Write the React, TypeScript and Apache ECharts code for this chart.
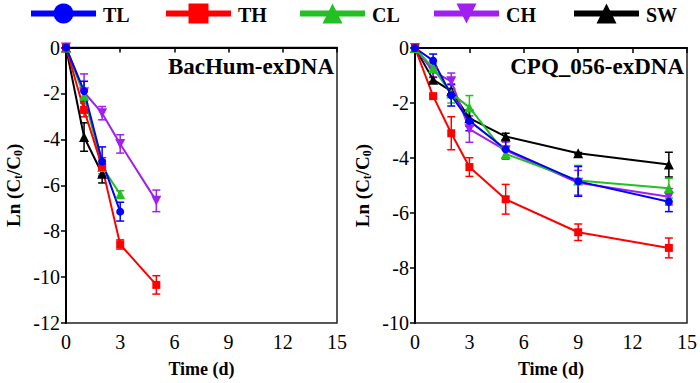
import React, { useEffect, useRef } from "react";
import * as echarts from "echarts";

// ---------- data ----------
const seriesNames = ["TL", "TH", "CL", "CH", "SW"];
const seriesColors = ["#0000ff", "#ff0000", "#22c022", "#a020f0", "#000000"];
const seriesSymbols = ["circle", "rect", "triangle", "triangle", "triangle"];
const seriesRotate = [0, 0, 0, 180, 0];

const timesLeft = [0, 1, 2, 3, 5];
const leftTL = [0, -1.9, -4.97, -7.15];
const leftTLerr = [0, 0.43, 0.64, 0.41];
const leftTH = [0, -2.72, -5.2, -8.58, -10.34];
const leftTHerr = [0, 0.3, 0.4, 0.2, 0.4];
const leftCL = [0, -2.1, -5.2, -6.39];
const leftCLerr = [0, 0.3, 0.3, 0.15];
const leftCH = [0, -1.95, -2.86, -4.2, -6.68];
const leftCHerr = [0, 0.8, 0.29, 0.4, 0.47];
const leftSW = [0, -3.9, -5.5];
const leftSWerr = [0, 0.62, 0.4];

const timesRight = [0, 1, 2, 3, 5, 9, 14];
const rightTL = [0, -0.46, -1.72, -2.65, -3.68, -4.85, -5.59];
const rightTLerr = [0, 0.24, 0.39, 0.36, 0.35, 0.54, 0.36];
const rightTH = [0, -1.75, -3.1, -4.33, -5.5, -6.7, -7.27];
const rightTHerr = [0, 0.05, 0.6, 0.34, 0.54, 0.3, 0.36];
const rightCL = [0, -0.73, -1.65, -2.16, -3.85, -4.82, -5.1];
const rightCLerr = [0, 0.15, 0.35, 0.43, 0.15, 0.55, 0.36];
const rightCH = [0, -0.85, -1.21, -2.95, -3.72, -4.9, -5.41];
const rightCHerr = [0, 0.2, 0.3, 0.48, 0.3, 0.45, 0.3];
const rightSW = [0, -1.15, -1.57, -2.55, -3.22, -3.83, -4.24];
const rightSWerr = [0, 0.08, 0.1, 0.3, 0.12, 0.03, 0.45];

const xTicks = [0, 3, 6, 9, 12, 15];
const leftYMin = -12;
const rightYMin = -10;
const panelTitles = ["BacHum-exDNA", "CPQ_056-exDNA"];

const leftValues = [leftTL, leftTH, leftCL, leftCH, leftSW];
const leftErrs = [leftTLerr, leftTHerr, leftCLerr, leftCHerr, leftSWerr];
const rightValues = [rightTL, rightTH, rightCL, rightCH, rightSW];
const rightErrs = [rightTLerr, rightTHerr, rightCLerr, rightCHerr, rightSWerr];

// legend item left positions (layout)
const legendLefts = [31, 166, 300, 434, 574];

const FONT = "'Liberation Serif', 'Times New Roman', serif";

function legendItem(i: number) {
  const color = seriesColors[i];
  const lw = 65;
  const cy = 13.5;
  const cx = lw / 2;
  const s = 10;
  let marker: any;
  if (seriesSymbols[i] === "circle") {
    marker = { type: "circle", shape: { cx, cy, r: s }, style: { fill: color } };
  } else if (seriesSymbols[i] === "rect") {
    marker = { type: "rect", shape: { x: cx - s, y: cy - s, width: 2 * s, height: 2 * s }, style: { fill: color } };
  } else if (seriesRotate[i] === 180) {
    marker = {
      type: "polygon",
      shape: { points: [[cx - s, cy - s], [cx + s, cy - s], [cx, cy + s]] },
      style: { fill: color },
    };
  } else {
    marker = {
      type: "polygon",
      shape: { points: [[cx, cy - s], [cx + s, cy + s], [cx - s, cy + s]] },
      style: { fill: color },
    };
  }
  return {
    type: "group",
    x: legendLefts[i],
    y: 0,
    children: [
      { type: "line", shape: { x1: 0, y1: cy, x2: lw, y2: cy }, style: { stroke: color, lineWidth: 6 } },
      marker,
      {
        type: "text",
        x: lw + 7,
        y: cy + 1,
        style: {
          text: seriesNames[i],
          fontFamily: FONT,
          fontWeight: "bold",
          fontSize: 20,
          fill: "#000",
          verticalAlign: "middle",
          align: "left",
        },
      },
    ],
  };
}

export default function App() {
  const ref = useRef<HTMLDivElement>(null);
  useEffect(() => {
    if (!ref.current) return;
    const chart = echarts.init(ref.current, undefined, { renderer: "svg" });

    const drawOrder = [4, 3, 2, 1, 0];
    const series: any[] = [];
    const addPanel = (gi: number, times: number[], vals: number[][], errs: number[][]) => {
      drawOrder.forEach((si) => {
        const color = seriesColors[si];
        const v = vals[si];
        const e = errs[si];
        const errData = v
          .map((y, i) => [times[i], y - e[i], y + e[i]])
          .filter((d, i) => e[i] > 0);
        series.push({
          type: "custom",
          name: "err-" + seriesNames[si] + gi,
          xAxisIndex: gi,
          yAxisIndex: gi,
          data: errData,
          z: 2,
          renderItem: (params: any, api: any) => {
            const x = api.value(0);
            const lo = api.value(1);
            const hi = api.value(2);
            const p1 = api.coord([x, hi]);
            const p2 = api.coord([x, lo]);
            const hw = 4;
            const st = { stroke: color, lineWidth: 1.5 };
            return {
              type: "group",
              children: [
                { type: "line", shape: { x1: p1[0], y1: p1[1], x2: p2[0], y2: p2[1] }, style: st },
                { type: "line", shape: { x1: p1[0] - hw, y1: p1[1], x2: p1[0] + hw, y2: p1[1] }, style: st },
                { type: "line", shape: { x1: p2[0] - hw, y1: p2[1], x2: p2[0] + hw, y2: p2[1] }, style: st },
              ],
            };
          },
        });
        series.push({
          type: "line",
          name: seriesNames[si],
          xAxisIndex: gi,
          yAxisIndex: gi,
          data: v.map((y, i) => [times[i], y]),
          color,
          symbol: seriesSymbols[si],
          symbolRotate: seriesRotate[si],
          symbolSize: si <= 1 ? 8 : 10,
          showAllSymbol: true,
          lineStyle: { width: 2, color },
          itemStyle: { color },
          z: 3,
        });
      });
    };
    addPanel(0, timesLeft, leftValues, leftErrs);
    addPanel(1, timesRight, rightValues, rightErrs);

    const yName = "{b|Ln (C}{s|t}{b|/C}{s|0}{b|)}";
    const nameRich = {
      b: { fontFamily: FONT, fontWeight: "bold", fontSize: 19, lineHeight: 22, color: "#000" },
      s: { fontFamily: FONT, fontWeight: "bold", fontSize: 12, lineHeight: 12, verticalAlign: "bottom", color: "#000" },
    };
    const mkX = (gi: number) => ({
      type: "value",
      gridIndex: gi,
      min: xTicks[0],
      max: xTicks[xTicks.length - 1],
      interval: 3,
      name: "Time (d)",
      nameLocation: "middle",
      nameGap: 37,
      nameTextStyle: { fontFamily: FONT, fontWeight: "bold", fontSize: 18, color: "#000" },
      axisLine: { show: true, lineStyle: { color: "#000", width: 2 } },
      axisTick: { show: true, length: 5, lineStyle: { color: "#000", width: 1.5 } },
      axisLabel: { fontFamily: FONT, fontSize: 20, color: "#000", margin: 9 },
      splitLine: { show: false },
    });
    const mkY = (gi: number, min: number) => ({
      type: "value",
      gridIndex: gi,
      min,
      max: 0,
      interval: 2,
      name: yName,
      nameLocation: "middle",
      nameRotate: 90,
      nameGap: 42,
      nameTextStyle: { rich: nameRich },
      axisLine: { show: true, onZero: false, lineStyle: { color: "#000", width: 2 } },
      axisTick: { show: true, length: 5, lineStyle: { color: "#000", width: 1.5 } },
      axisLabel: { fontFamily: FONT, fontSize: 20, color: "#000", margin: 6 },
      splitLine: { show: false },
    });

    chart.setOption({
      animation: false,
      backgroundColor: "#fff",
      grid: [
        { left: 66, right: 363, top: 47.5, bottom: 59, show: true, borderColor: "#222", borderWidth: 1.5 },
        { left: 415, right: 12, top: 48, bottom: 57, show: true, borderColor: "#222", borderWidth: 1.5 },
      ],
      xAxis: [mkX(0), mkX(1)],
      yAxis: [mkY(0, leftYMin), mkY(1, rightYMin)],
      graphic: [
        {
          type: "text",
          right: 366,
          top: 55,
          style: { text: panelTitles[0], fontFamily: FONT, fontWeight: "bold", fontSize: 23, fill: "#000" },
        },
        {
          type: "text",
          right: 16,
          top: 55,
          style: { text: panelTitles[1], fontFamily: FONT, fontWeight: "bold", fontSize: 23, fill: "#000" },
        },
        ...seriesNames.map((n, i) => legendItem(i)),
      ],
      series,
    });
    return () => chart.dispose();
  }, []);
  return <div ref={ref} style={{ width: 700, height: 383, position: "absolute", left: 0, top: 0 }} />;
}
